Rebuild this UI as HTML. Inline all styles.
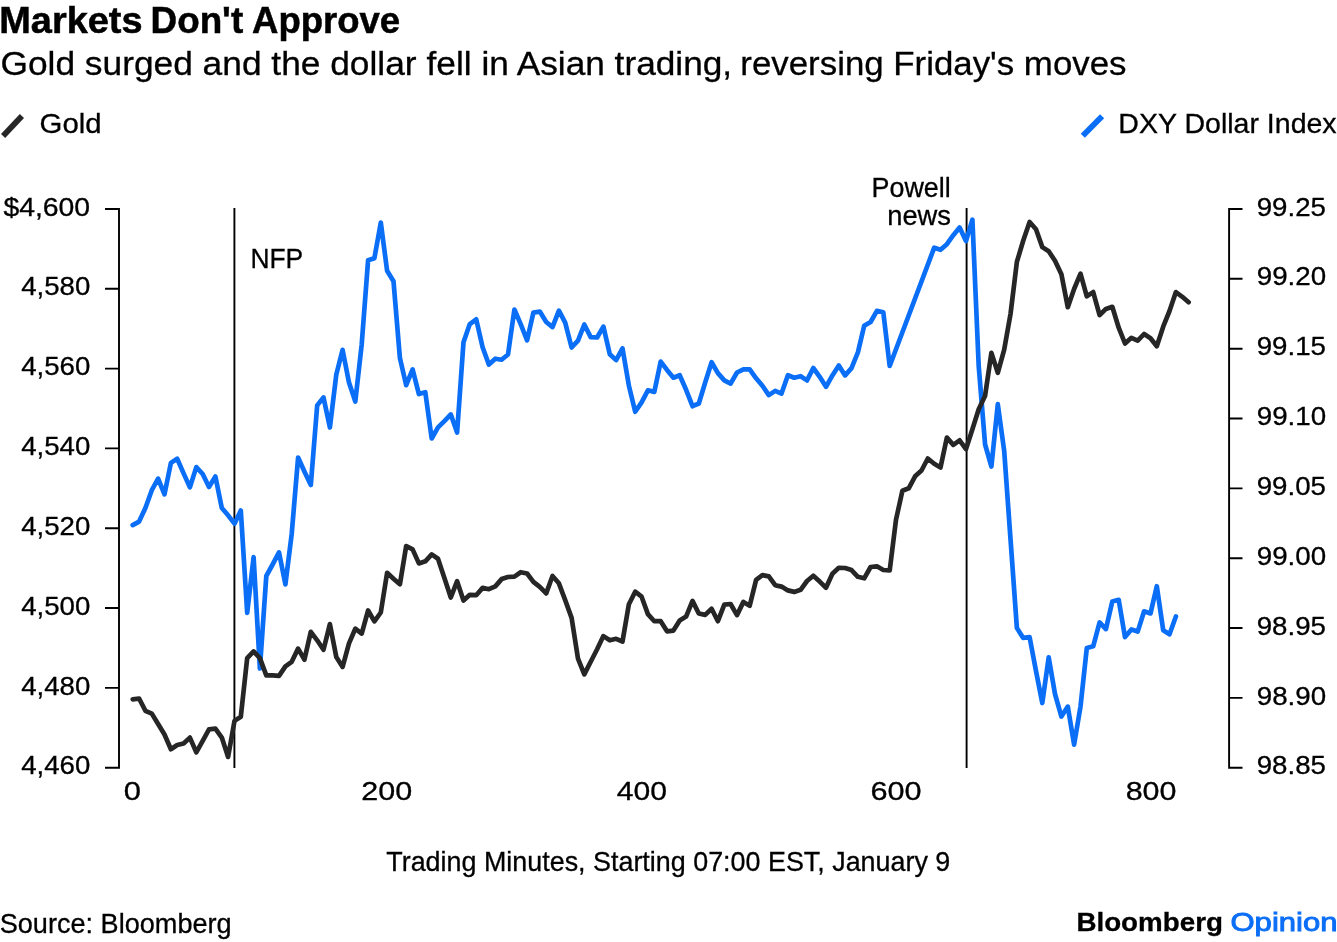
<!DOCTYPE html>
<html lang="en">
<head>
<meta charset="utf-8">
<title>Markets Don't Approve</title>
<style>
html,body{margin:0;padding:0;background:#fff;}
body{width:1337px;height:942px;overflow:hidden;}
svg{display:block;}
text{font-family:"Liberation Sans",Arial,Helvetica,sans-serif;stroke:#000;stroke-width:0.3px;}
#title{stroke-width:0.5px;}
.axis{stroke:#000;stroke-width:1.9;fill:none;}
</style>
</head>
<body>
<svg width="1337" height="942" viewBox="0 0 1337 942">
<rect width="1337" height="942" fill="#fff"/>
<line x1="3.1" y1="135.9" x2="21.9" y2="116.1" stroke="#262626" stroke-width="5.8"/>
<line x1="1082.8" y1="135.8" x2="1102.1" y2="116.2" stroke="#0b6ef6" stroke-width="5.8"/>
<path class="axis" d="M105,209.0 H119.0 V767.7 H105 M105,288.8 H119.0 M105,368.6 H119.0 M105,448.4 H119.0 M105,528.2 H119.0 M105,608.0 H119.0 M105,687.9 H119.0"/>
<path class="axis" d="M1242.5,209.0 H1229.1 V767.7 H1242.5 M1229.1,278.8 H1242.5 M1229.1,348.7 H1242.5 M1229.1,418.5 H1242.5 M1229.1,488.4 H1242.5 M1229.1,558.2 H1242.5 M1229.1,628.0 H1242.5 M1229.1,697.9 H1242.5"/>
<line x1="234.4" y1="208.1" x2="234.4" y2="768" stroke="#000" stroke-width="1.9"/>
<line x1="966.6" y1="208.1" x2="966.6" y2="768" stroke="#000" stroke-width="1.9"/>
<polyline points="132.7,525.1 139.1,521.6 145.4,508.0 151.8,490.2 158.1,478.6 164.5,494.3 170.9,462.9 177.2,458.7 183.6,473.4 189.9,487.4 196.3,467.1 202.7,474.0 209.0,487.0 215.4,476.5 221.8,508.0 228.1,515.3 234.5,523.7 240.8,510.5 247.2,612.8 253.6,557.2 259.9,668.5 266.3,576.0 272.6,564.5 279.0,552.4 285.4,584.4 291.7,534.0 298.1,457.5 304.4,471.5 310.8,485.0 317.2,405.4 323.5,397.4 329.9,427.4 336.3,374.5 342.6,349.9 349.0,382.6 355.3,401.6 361.7,344.4 368.1,260.3 374.4,258.2 380.8,222.6 387.1,270.7 393.5,281.2 399.9,358.0 406.2,385.2 412.6,369.4 418.9,394.1 425.3,392.2 431.7,438.5 438.0,427.4 444.4,421.1 450.8,414.4 457.1,432.6 463.5,342.2 469.8,324.1 476.2,319.3 482.6,347.2 488.9,364.6 495.3,358.7 501.6,359.7 508.0,354.5 514.4,309.5 520.7,324.1 527.1,340.3 533.4,312.6 539.8,311.6 546.2,322.0 552.5,327.1 558.9,310.6 565.2,322.7 571.6,347.5 578.0,340.6 584.3,324.5 590.7,337.1 597.1,337.5 603.4,326.6 609.8,354.2 616.1,360.1 622.5,348.4 628.9,385.7 635.2,411.8 641.6,402.4 647.9,390.3 654.3,391.9 660.7,361.6 667.0,369.9 673.4,377.7 679.7,375.2 686.1,389.8 692.5,406.2 698.8,403.5 705.2,382.5 711.6,362.2 717.9,373.1 724.3,380.4 730.6,383.6 737.0,372.5 743.4,369.3 749.7,369.3 756.1,378.3 762.4,385.7 768.8,395.1 775.2,390.9 781.5,393.6 787.9,375.2 794.2,377.7 800.6,376.2 807.0,380.4 813.3,368.0 819.7,376.8 826.0,386.8 832.4,375.4 838.8,365.4 845.1,375.4 851.5,368.1 857.9,352.4 864.2,325.8 870.6,322.0 876.9,310.9 883.3,312.2 889.7,366.0 934.2,247.7 940.5,249.8 946.9,244.2 953.3,235.2 959.6,227.5 966.0,241.1 972.4,219.7 978.7,366.0 985.1,444.5 991.4,466.5 997.8,404.2 1004.2,451.0 1010.5,539.0 1016.9,628.0 1023.2,637.9 1029.6,637.1 1036.0,671.0 1042.3,703.0 1048.7,657.4 1055.0,694.0 1061.4,716.6 1067.8,706.6 1074.1,744.7 1080.5,706.6 1086.8,648.0 1093.2,646.3 1099.6,622.4 1105.9,629.1 1112.3,601.5 1118.7,599.8 1125.0,637.1 1131.4,629.5 1137.7,631.6 1144.1,611.3 1150.5,613.4 1156.8,586.2 1163.2,630.2 1169.5,634.3 1175.9,616.5" fill="none" stroke="#0b6ef6" stroke-width="4.7" stroke-linejoin="round" stroke-linecap="round"/>
<polyline points="132.7,699.3 139.1,698.5 145.4,710.8 151.8,713.6 158.1,724.0 164.5,734.5 170.9,749.2 177.2,745.0 183.6,743.5 189.9,737.6 196.3,752.3 202.7,740.8 209.0,729.3 215.4,728.6 221.8,737.6 228.1,756.9 234.5,720.9 240.8,716.7 247.2,658.1 253.6,651.4 259.9,658.1 266.3,675.4 272.6,675.4 279.0,675.9 285.4,666.4 291.7,661.8 298.1,648.6 304.4,659.7 310.8,631.9 317.2,640.3 323.5,649.7 329.9,624.1 336.3,657.0 342.6,666.9 349.0,643.4 355.3,628.7 361.7,633.6 368.1,610.5 374.4,621.4 380.8,612.5 387.1,572.8 393.5,578.7 399.9,584.3 406.2,546.0 412.6,549.4 418.9,563.4 425.3,561.3 431.7,554.4 438.0,558.8 444.4,578.1 450.8,597.5 457.1,581.2 463.5,600.5 469.8,594.8 476.2,595.2 482.6,587.9 488.9,589.2 495.3,586.4 501.6,579.1 508.0,577.0 514.4,576.6 520.7,572.2 527.1,573.5 533.4,581.8 539.8,586.9 546.2,593.4 552.5,576.0 558.9,583.3 565.2,600.1 571.6,617.9 578.0,658.7 584.3,674.4 590.7,661.8 597.1,649.3 603.4,636.1 609.8,640.3 616.1,638.8 622.5,641.5 628.9,604.2 635.2,591.7 641.6,596.7 647.9,614.1 654.3,621.2 660.7,621.2 667.0,631.3 673.4,630.6 679.7,620.4 686.1,616.6 692.5,600.9 698.8,613.5 705.2,614.9 711.6,608.8 717.9,621.2 724.3,604.7 730.6,604.0 737.0,615.1 743.4,601.9 749.7,605.7 756.1,579.9 762.4,575.1 768.8,576.4 775.2,585.2 781.5,586.6 787.9,590.4 794.2,591.9 800.6,589.8 807.0,581.0 813.3,575.8 819.7,581.6 826.0,587.7 832.4,573.7 838.8,567.8 845.1,568.0 851.5,570.1 857.9,576.8 864.2,578.3 870.6,567.0 876.9,566.3 883.3,570.0 889.7,570.5 896.0,519.8 902.4,490.7 908.7,488.3 915.1,476.3 921.5,470.5 927.8,458.5 934.2,463.8 940.5,467.5 946.9,437.6 953.3,444.9 959.6,440.3 966.0,449.1 972.4,429.2 978.7,409.3 985.1,395.7 991.4,352.9 997.8,372.8 1004.2,349.7 1010.5,314.1 1016.9,261.8 1023.2,240.8 1029.6,222.0 1036.0,229.3 1042.3,247.1 1048.7,251.3 1055.0,260.7 1061.4,274.3 1067.8,307.2 1074.1,289.0 1080.5,273.7 1086.8,296.3 1093.2,292.1 1099.6,315.2 1105.9,308.9 1112.3,306.8 1118.7,327.7 1125.0,343.5 1131.4,337.8 1137.7,340.7 1144.1,334.0 1150.5,338.2 1156.8,346.2 1163.2,326.7 1169.5,311.0 1175.9,292.1 1182.3,296.8 1188.6,302.2" fill="none" stroke="#262626" stroke-width="4.7" stroke-linejoin="round" stroke-linecap="round"/>
<text id="title" y="33.2" font-size="36" font-weight="bold"><tspan x="-0.74" textLength="143.25" lengthAdjust="spacingAndGlyphs">Markets</tspan> <tspan x="150.54" textLength="92.62" lengthAdjust="spacingAndGlyphs">Don't</tspan> <tspan x="252.09" textLength="148.10" lengthAdjust="spacingAndGlyphs">Approve</tspan></text>
<text id="sub" y="75.4" font-size="33" ><tspan x="0.49" textLength="416.10" lengthAdjust="spacingAndGlyphs">Gold surged and the dollar</tspan> <tspan x="426.57" textLength="305.60" lengthAdjust="spacingAndGlyphs">fell in Asian trading,</tspan> <tspan x="740.35" textLength="386.16" lengthAdjust="spacingAndGlyphs">reversing Friday's moves</tspan></text>
<text id="lgold" x="39.56" y="133.2" font-size="27.8"  textLength="62.01" lengthAdjust="spacingAndGlyphs">Gold</text>
<text id="ldxy" x="1118.37" y="133.1" font-size="27.8"  textLength="218.26" lengthAdjust="spacingAndGlyphs">DXY Dollar Index</text>
<text id="L0" x="3.40" y="215.6" font-size="25"  textLength="86.76" lengthAdjust="spacingAndGlyphs">$4,600</text>
<text id="L1" x="21.21" y="295.4" font-size="25"  textLength="69.07" lengthAdjust="spacingAndGlyphs">4,580</text>
<text id="L2" x="21.21" y="375.2" font-size="25"  textLength="69.07" lengthAdjust="spacingAndGlyphs">4,560</text>
<text id="L3" x="21.21" y="455.0" font-size="25"  textLength="69.07" lengthAdjust="spacingAndGlyphs">4,540</text>
<text id="L4" x="21.21" y="534.8" font-size="25"  textLength="69.07" lengthAdjust="spacingAndGlyphs">4,520</text>
<text id="L5" x="21.21" y="614.6" font-size="25"  textLength="69.07" lengthAdjust="spacingAndGlyphs">4,500</text>
<text id="L6" x="21.21" y="694.5" font-size="25"  textLength="69.07" lengthAdjust="spacingAndGlyphs">4,480</text>
<text id="L7" x="21.21" y="774.3" font-size="25"  textLength="69.07" lengthAdjust="spacingAndGlyphs">4,460</text>
<text id="R0" x="1256.74" y="215.6" font-size="25"  textLength="69.25" lengthAdjust="spacingAndGlyphs">99.25</text>
<text id="R1" x="1256.74" y="285.4" font-size="25"  textLength="69.43" lengthAdjust="spacingAndGlyphs">99.20</text>
<text id="R2" x="1256.74" y="355.3" font-size="25"  textLength="69.25" lengthAdjust="spacingAndGlyphs">99.15</text>
<text id="R3" x="1256.74" y="425.1" font-size="25"  textLength="69.43" lengthAdjust="spacingAndGlyphs">99.10</text>
<text id="R4" x="1256.74" y="495.0" font-size="25"  textLength="69.25" lengthAdjust="spacingAndGlyphs">99.05</text>
<text id="R5" x="1256.74" y="564.8" font-size="25"  textLength="69.43" lengthAdjust="spacingAndGlyphs">99.00</text>
<text id="R6" x="1256.74" y="634.6" font-size="25"  textLength="69.25" lengthAdjust="spacingAndGlyphs">98.95</text>
<text id="R7" x="1256.74" y="704.5" font-size="25"  textLength="69.43" lengthAdjust="spacingAndGlyphs">98.90</text>
<text id="R8" x="1256.74" y="774.3" font-size="25"  textLength="69.25" lengthAdjust="spacingAndGlyphs">98.85</text>
<text id="X0" x="123.79" y="799.6" font-size="25"  textLength="17.17" lengthAdjust="spacingAndGlyphs">0</text>
<text id="X1" x="361.39" y="799.6" font-size="25"  textLength="50.93" lengthAdjust="spacingAndGlyphs">200</text>
<text id="X2" x="616.69" y="799.6" font-size="25"  textLength="50.21" lengthAdjust="spacingAndGlyphs">400</text>
<text id="X3" x="870.59" y="799.6" font-size="25"  textLength="51.08" lengthAdjust="spacingAndGlyphs">600</text>
<text id="X4" x="1125.68" y="799.6" font-size="25"  textLength="50.75" lengthAdjust="spacingAndGlyphs">800</text>
<text id="nfp" x="250.40" y="268.1" font-size="27.4"  textLength="52.82" lengthAdjust="spacingAndGlyphs">NFP</text>
<text id="powell" x="871.58" y="197.3" font-size="27.6"  textLength="79.07" lengthAdjust="spacingAndGlyphs">Powell</text>
<text id="news" x="887.19" y="225.2" font-size="27.6"  textLength="63.80" lengthAdjust="spacingAndGlyphs">news</text>
<text id="xt" x="386.27" y="871.4" font-size="27.4"  textLength="564.05" lengthAdjust="spacingAndGlyphs">Trading Minutes, Starting 07:00 EST, January 9</text>
<text id="src" x="-0.34" y="933.2" font-size="27.4"  textLength="231.98" lengthAdjust="spacingAndGlyphs">Source: Bloomberg</text>
<text id="bb" x="1076.43" y="931.3" font-size="26.2" font-weight="bold" textLength="146.46" lengthAdjust="spacingAndGlyphs">Bloomberg</text>
<text id="op" x="1230.48" y="931.3" font-size="26.2" style="fill:#0b6ef6;stroke:#0b6ef6;stroke-width:0.9px" textLength="107.04" lengthAdjust="spacingAndGlyphs">Opinion</text>
</svg>
</body>
</html>
